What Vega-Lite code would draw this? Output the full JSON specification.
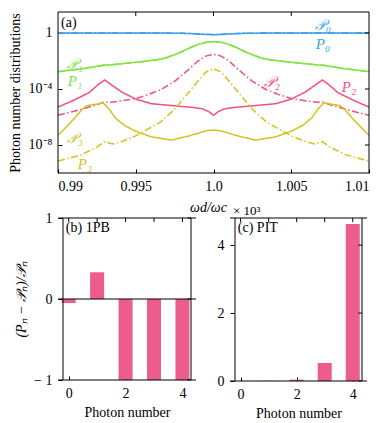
{
  "$schema": "https://vega.github.io/schema/vega-lite/v6.json",
  "padding": {"left": 8, "top": 11, "right": 5, "bottom": 5},
  "bounds": "flush",
  "spacing": 45,
  "config": {
    "font": "Liberation Serif",
    "view": {"stroke": null},
    "axis": {
      "labelFont": "Liberation Serif", "titleFont": "Liberation Serif",
      "labelFontSize": 14, "titleFontSize": 14, "titleFontWeight": "normal",
      "labelColor": "black", "titleColor": "black", "grid": false, "domain": false,
      "tickColor": "black", "tickSize": -4, "labelPadding": 10, "labelOverlap": false
    }
  },
  "datasets": {
    "curves": [
      {"w": 0.990, "v": 0.998, "n": "0", "k": "P"},
      {"w": 0.9945, "v": 0.993, "n": "0", "k": "P"},
      {"w": 0.9969, "v": 0.984, "n": "0", "k": "P"},
      {"w": 0.998, "v": 0.952, "n": "0", "k": "P"},
      {"w": 0.9985, "v": 0.91, "n": "0", "k": "P"},
      {"w": 0.999, "v": 0.845, "n": "0", "k": "P"},
      {"w": 0.9995, "v": 0.785, "n": "0", "k": "P"},
      {"w": 1.0, "v": 0.755, "n": "0", "k": "P"},
      {"w": 1.0005, "v": 0.785, "n": "0", "k": "P"},
      {"w": 1.001, "v": 0.845, "n": "0", "k": "P"},
      {"w": 1.0015, "v": 0.91, "n": "0", "k": "P"},
      {"w": 1.002, "v": 0.952, "n": "0", "k": "P"},
      {"w": 1.0031, "v": 0.984, "n": "0", "k": "P"},
      {"w": 1.0055, "v": 0.993, "n": "0", "k": "P"},
      {"w": 1.01, "v": 0.998, "n": "0", "k": "P"},

      {"w": 0.990, "v": 0.998, "n": "0", "k": "Q"},
      {"w": 0.9945, "v": 0.993, "n": "0", "k": "Q"},
      {"w": 0.9969, "v": 0.985, "n": "0", "k": "Q"},
      {"w": 0.998, "v": 0.955, "n": "0", "k": "Q"},
      {"w": 0.9985, "v": 0.915, "n": "0", "k": "Q"},
      {"w": 0.999, "v": 0.855, "n": "0", "k": "Q"},
      {"w": 0.9995, "v": 0.80, "n": "0", "k": "Q"},
      {"w": 1.0, "v": 0.775, "n": "0", "k": "Q"},
      {"w": 1.0005, "v": 0.80, "n": "0", "k": "Q"},
      {"w": 1.001, "v": 0.855, "n": "0", "k": "Q"},
      {"w": 1.0015, "v": 0.915, "n": "0", "k": "Q"},
      {"w": 1.002, "v": 0.955, "n": "0", "k": "Q"},
      {"w": 1.0031, "v": 0.985, "n": "0", "k": "Q"},
      {"w": 1.0055, "v": 0.993, "n": "0", "k": "Q"},
      {"w": 1.01, "v": 0.998, "n": "0", "k": "Q"},

      {"w": 0.990, "v": 1.74e-3, "n": "1", "k": "P"},
      {"w": 0.9915, "v": 2.75e-3, "n": "1", "k": "P"},
      {"w": 0.9928, "v": 4.75e-3, "n": "1", "k": "P"},
      {"w": 0.993, "v": 5.3e-3, "n": "1", "k": "P"},
      {"w": 0.9932, "v": 5.0e-3, "n": "1", "k": "P"},
      {"w": 0.9945, "v": 7.08e-3, "n": "1", "k": "P"},
      {"w": 0.9955, "v": 9.33e-3, "n": "1", "k": "P"},
      {"w": 0.9963, "v": 1.20e-2, "n": "1", "k": "P"},
      {"w": 0.9969, "v": 1.585e-2, "n": "1", "k": "P"},
      {"w": 0.9975, "v": 2.82e-2, "n": "1", "k": "P"},
      {"w": 0.998, "v": 4.79e-2, "n": "1", "k": "P"},
      {"w": 0.9985, "v": 8.91e-2, "n": "1", "k": "P"},
      {"w": 0.999, "v": 0.151, "n": "1", "k": "P"},
      {"w": 0.9995, "v": 0.214, "n": "1", "k": "P"},
      {"w": 1.0, "v": 0.240, "n": "1", "k": "P"},
      {"w": 1.0005, "v": 0.214, "n": "1", "k": "P"},
      {"w": 1.001, "v": 0.151, "n": "1", "k": "P"},
      {"w": 1.0015, "v": 8.91e-2, "n": "1", "k": "P"},
      {"w": 1.002, "v": 4.79e-2, "n": "1", "k": "P"},
      {"w": 1.0025, "v": 2.82e-2, "n": "1", "k": "P"},
      {"w": 1.0031, "v": 1.585e-2, "n": "1", "k": "P"},
      {"w": 1.0037, "v": 1.20e-2, "n": "1", "k": "P"},
      {"w": 1.0045, "v": 9.33e-3, "n": "1", "k": "P"},
      {"w": 1.0055, "v": 7.08e-3, "n": "1", "k": "P"},
      {"w": 1.0068, "v": 5.0e-3, "n": "1", "k": "P"},
      {"w": 1.007, "v": 5.3e-3, "n": "1", "k": "P"},
      {"w": 1.0072, "v": 4.75e-3, "n": "1", "k": "P"},
      {"w": 1.0085, "v": 2.75e-3, "n": "1", "k": "P"},
      {"w": 1.01, "v": 1.74e-3, "n": "1", "k": "P"},

      {"w": 0.990, "v": 1.74e-3, "n": "1", "k": "Q"},
      {"w": 0.9915, "v": 2.75e-3, "n": "1", "k": "Q"},
      {"w": 0.993, "v": 4.9e-3, "n": "1", "k": "Q"},
      {"w": 0.9945, "v": 7.08e-3, "n": "1", "k": "Q"},
      {"w": 0.9955, "v": 9.33e-3, "n": "1", "k": "Q"},
      {"w": 0.9963, "v": 1.20e-2, "n": "1", "k": "Q"},
      {"w": 0.9969, "v": 1.585e-2, "n": "1", "k": "Q"},
      {"w": 0.9975, "v": 2.82e-2, "n": "1", "k": "Q"},
      {"w": 0.998, "v": 4.79e-2, "n": "1", "k": "Q"},
      {"w": 0.9985, "v": 8.91e-2, "n": "1", "k": "Q"},
      {"w": 0.999, "v": 0.151, "n": "1", "k": "Q"},
      {"w": 0.9995, "v": 0.214, "n": "1", "k": "Q"},
      {"w": 1.0, "v": 0.240, "n": "1", "k": "Q"},
      {"w": 1.0005, "v": 0.214, "n": "1", "k": "Q"},
      {"w": 1.001, "v": 0.151, "n": "1", "k": "Q"},
      {"w": 1.0015, "v": 8.91e-2, "n": "1", "k": "Q"},
      {"w": 1.002, "v": 4.79e-2, "n": "1", "k": "Q"},
      {"w": 1.0025, "v": 2.82e-2, "n": "1", "k": "Q"},
      {"w": 1.0031, "v": 1.585e-2, "n": "1", "k": "Q"},
      {"w": 1.0037, "v": 1.20e-2, "n": "1", "k": "Q"},
      {"w": 1.0045, "v": 9.33e-3, "n": "1", "k": "Q"},
      {"w": 1.0055, "v": 7.08e-3, "n": "1", "k": "Q"},
      {"w": 1.007, "v": 4.9e-3, "n": "1", "k": "Q"},
      {"w": 1.0085, "v": 2.75e-3, "n": "1", "k": "Q"},
      {"w": 1.01, "v": 1.74e-3, "n": "1", "k": "Q"},

      {"w": 0.990, "v": 5.13e-6, "n": "2", "k": "P"},
      {"w": 0.9909, "v": 1.38e-5, "n": "2", "k": "P"},
      {"w": 0.992, "v": 5.50e-5, "n": "2", "k": "P"},
      {"w": 0.9926, "v": 2.14e-4, "n": "2", "k": "P"},
      {"w": 0.993, "v": 4.37e-4, "n": "2", "k": "P"},
      {"w": 0.99345, "v": 1.95e-4, "n": "2", "k": "P"},
      {"w": 0.9941, "v": 6.03e-5, "n": "2", "k": "P"},
      {"w": 0.995, "v": 1.91e-5, "n": "2", "k": "P"},
      {"w": 0.996, "v": 8.91e-6, "n": "2", "k": "P"},
      {"w": 0.997, "v": 7.08e-6, "n": "2", "k": "P"},
      {"w": 0.998, "v": 5.62e-6, "n": "2", "k": "P"},
      {"w": 0.9987, "v": 4.79e-6, "n": "2", "k": "P"},
      {"w": 0.9993, "v": 3.80e-6, "n": "2", "k": "P"},
      {"w": 0.9997, "v": 2.40e-6, "n": "2", "k": "P"},
      {"w": 1.0, "v": 1.32e-6, "n": "2", "k": "P"},
      {"w": 1.0003, "v": 2.40e-6, "n": "2", "k": "P"},
      {"w": 1.0007, "v": 3.80e-6, "n": "2", "k": "P"},
      {"w": 1.0013, "v": 4.79e-6, "n": "2", "k": "P"},
      {"w": 1.002, "v": 5.62e-6, "n": "2", "k": "P"},
      {"w": 1.003, "v": 7.08e-6, "n": "2", "k": "P"},
      {"w": 1.004, "v": 8.91e-6, "n": "2", "k": "P"},
      {"w": 1.005, "v": 1.91e-5, "n": "2", "k": "P"},
      {"w": 1.0059, "v": 6.03e-5, "n": "2", "k": "P"},
      {"w": 1.00655, "v": 1.95e-4, "n": "2", "k": "P"},
      {"w": 1.007, "v": 4.37e-4, "n": "2", "k": "P"},
      {"w": 1.0074, "v": 2.14e-4, "n": "2", "k": "P"},
      {"w": 1.008, "v": 5.50e-5, "n": "2", "k": "P"},
      {"w": 1.0091, "v": 1.38e-5, "n": "2", "k": "P"},
      {"w": 1.01, "v": 5.13e-6, "n": "2", "k": "P"},

      {"w": 0.990, "v": 1.32e-6, "n": "2", "k": "Q"},
      {"w": 0.9915, "v": 3.55e-6, "n": "2", "k": "Q"},
      {"w": 0.9925, "v": 7.59e-6, "n": "2", "k": "Q"},
      {"w": 0.993, "v": 1.20e-5, "n": "2", "k": "Q"},
      {"w": 0.9934, "v": 1.12e-5, "n": "2", "k": "Q"},
      {"w": 0.9942, "v": 1.51e-5, "n": "2", "k": "Q"},
      {"w": 0.995, "v": 2.09e-5, "n": "2", "k": "Q"},
      {"w": 0.9958, "v": 3.98e-5, "n": "2", "k": "Q"},
      {"w": 0.9966, "v": 8.91e-5, "n": "2", "k": "Q"},
      {"w": 0.9975, "v": 3.55e-4, "n": "2", "k": "Q"},
      {"w": 0.9983, "v": 1.95e-3, "n": "2", "k": "Q"},
      {"w": 0.999, "v": 1.0e-2, "n": "2", "k": "Q"},
      {"w": 0.9995, "v": 2.24e-2, "n": "2", "k": "Q"},
      {"w": 1.0, "v": 3.02e-2, "n": "2", "k": "Q"},
      {"w": 1.0005, "v": 2.24e-2, "n": "2", "k": "Q"},
      {"w": 1.001, "v": 1.0e-2, "n": "2", "k": "Q"},
      {"w": 1.0017, "v": 1.95e-3, "n": "2", "k": "Q"},
      {"w": 1.0025, "v": 3.55e-4, "n": "2", "k": "Q"},
      {"w": 1.0034, "v": 8.91e-5, "n": "2", "k": "Q"},
      {"w": 1.0042, "v": 3.98e-5, "n": "2", "k": "Q"},
      {"w": 1.005, "v": 2.09e-5, "n": "2", "k": "Q"},
      {"w": 1.0058, "v": 1.51e-5, "n": "2", "k": "Q"},
      {"w": 1.0066, "v": 1.12e-5, "n": "2", "k": "Q"},
      {"w": 1.007, "v": 1.20e-5, "n": "2", "k": "Q"},
      {"w": 1.0075, "v": 7.59e-6, "n": "2", "k": "Q"},
      {"w": 1.0085, "v": 3.55e-6, "n": "2", "k": "Q"},
      {"w": 1.01, "v": 1.32e-6, "n": "2", "k": "Q"},

      {"w": 0.990, "v": 4.90e-8, "n": "3", "k": "P"},
      {"w": 0.9905, "v": 1.78e-7, "n": "3", "k": "P"},
      {"w": 0.9911, "v": 8.91e-7, "n": "3", "k": "P"},
      {"w": 0.9916, "v": 3.98e-6, "n": "3", "k": "P"},
      {"w": 0.9919, "v": 6.76e-6, "n": "3", "k": "P"},
      {"w": 0.9925, "v": 8.32e-6, "n": "3", "k": "P"},
      {"w": 0.9929, "v": 1.05e-5, "n": "3", "k": "P"},
      {"w": 0.9933, "v": 3.55e-6, "n": "3", "k": "P"},
      {"w": 0.99367, "v": 8.91e-7, "n": "3", "k": "P"},
      {"w": 0.9942, "v": 2.82e-7, "n": "3", "k": "P"},
      {"w": 0.99495, "v": 1.0e-7, "n": "3", "k": "P"},
      {"w": 0.996, "v": 3.80e-8, "n": "3", "k": "P"},
      {"w": 0.9973, "v": 2.24e-8, "n": "3", "k": "P"},
      {"w": 0.9985, "v": 4.68e-8, "n": "3", "k": "P"},
      {"w": 0.9992, "v": 7.94e-8, "n": "3", "k": "P"},
      {"w": 0.9996, "v": 1.07e-7, "n": "3", "k": "P"},
      {"w": 1.0, "v": 1.17e-7, "n": "3", "k": "P"},
      {"w": 1.0004, "v": 1.07e-7, "n": "3", "k": "P"},
      {"w": 1.0008, "v": 7.94e-8, "n": "3", "k": "P"},
      {"w": 1.0015, "v": 4.68e-8, "n": "3", "k": "P"},
      {"w": 1.0027, "v": 2.24e-8, "n": "3", "k": "P"},
      {"w": 1.004, "v": 3.80e-8, "n": "3", "k": "P"},
      {"w": 1.00505, "v": 1.0e-7, "n": "3", "k": "P"},
      {"w": 1.0058, "v": 2.82e-7, "n": "3", "k": "P"},
      {"w": 1.00633, "v": 8.91e-7, "n": "3", "k": "P"},
      {"w": 1.0067, "v": 3.55e-6, "n": "3", "k": "P"},
      {"w": 1.0071, "v": 1.05e-5, "n": "3", "k": "P"},
      {"w": 1.0075, "v": 8.32e-6, "n": "3", "k": "P"},
      {"w": 1.0081, "v": 6.76e-6, "n": "3", "k": "P"},
      {"w": 1.0084, "v": 3.98e-6, "n": "3", "k": "P"},
      {"w": 1.0089, "v": 8.91e-7, "n": "3", "k": "P"},
      {"w": 1.0095, "v": 1.78e-7, "n": "3", "k": "P"},
      {"w": 1.01, "v": 4.90e-8, "n": "3", "k": "P"},

      {"w": 0.990, "v": 7.24e-10, "n": "3", "k": "Q"},
      {"w": 0.9915, "v": 2.0e-9, "n": "3", "k": "Q"},
      {"w": 0.9925, "v": 7.08e-9, "n": "3", "k": "Q"},
      {"w": 0.993, "v": 1.74e-8, "n": "3", "k": "Q"},
      {"w": 0.9935, "v": 1.17e-8, "n": "3", "k": "Q"},
      {"w": 0.9942, "v": 1.91e-8, "n": "3", "k": "Q"},
      {"w": 0.995, "v": 4.47e-8, "n": "3", "k": "Q"},
      {"w": 0.9958, "v": 1.41e-7, "n": "3", "k": "Q"},
      {"w": 0.9966, "v": 4.47e-7, "n": "3", "k": "Q"},
      {"w": 0.9975, "v": 3.55e-6, "n": "3", "k": "Q"},
      {"w": 0.9983, "v": 4.17e-5, "n": "3", "k": "Q"},
      {"w": 0.999, "v": 3.55e-4, "n": "3", "k": "Q"},
      {"w": 0.9995, "v": 1.585e-3, "n": "3", "k": "Q"},
      {"w": 1.0, "v": 2.82e-3, "n": "3", "k": "Q"},
      {"w": 1.0005, "v": 1.585e-3, "n": "3", "k": "Q"},
      {"w": 1.001, "v": 3.55e-4, "n": "3", "k": "Q"},
      {"w": 1.0017, "v": 4.17e-5, "n": "3", "k": "Q"},
      {"w": 1.0025, "v": 3.55e-6, "n": "3", "k": "Q"},
      {"w": 1.0034, "v": 4.47e-7, "n": "3", "k": "Q"},
      {"w": 1.0042, "v": 1.41e-7, "n": "3", "k": "Q"},
      {"w": 1.005, "v": 4.47e-8, "n": "3", "k": "Q"},
      {"w": 1.0058, "v": 1.91e-8, "n": "3", "k": "Q"},
      {"w": 1.0065, "v": 1.17e-8, "n": "3", "k": "Q"},
      {"w": 1.007, "v": 1.74e-8, "n": "3", "k": "Q"},
      {"w": 1.0075, "v": 7.08e-9, "n": "3", "k": "Q"},
      {"w": 1.0085, "v": 2.0e-9, "n": "3", "k": "Q"},
      {"w": 1.01, "v": 7.24e-10, "n": "3", "k": "Q"}
    ],
    "toplabels": [
      {"w": 1.00704, "v": 3.7, "t": "𝒫₀", "n": "0"},
      {"w": 1.00704, "v": 0.163, "t": "P₀", "n": "0"},
      {"w": 0.99109, "v": 6.17e-3, "t": "𝒫₁", "n": "1"},
      {"w": 0.99109, "v": 3.72e-4, "t": "P₁", "n": "1"},
      {"w": 1.00376, "v": 3.16e-4, "t": "𝒫₂", "n": "2"},
      {"w": 1.00871, "v": 1.38e-4, "t": "P₂", "n": "2"},
      {"w": 0.99109, "v": 3.16e-8, "t": "𝒫₃", "n": "3"},
      {"w": 0.99174, "v": 4.37e-10, "t": "P₃", "n": "3"}
    ],
    "pb": [
      {"n": 0, "v": -0.05},
      {"n": 1, "v": 0.33},
      {"n": 2, "v": -1},
      {"n": 3, "v": -1},
      {"n": 4, "v": -1}
    ],
    "pc": [
      {"n": 0, "v": 0.002},
      {"n": 1, "v": 0.004},
      {"n": 2, "v": 0.04},
      {"n": 3, "v": 0.53},
      {"n": 4, "v": 4.62}
    ]
  },
  "vconcat": [
    {
      "width": 311,
      "height": 161,
      "layer": [
        {
          "data": {"name": "curves"},
          "mark": {"type": "line", "strokeWidth": 1.5, "clip": true},
          "encoding": {
            "x": {"field": "w", "type": "quantitative",
                  "scale": {"domain": [0.99, 1.01], "nice": false, "zero": false},
                  "axis": {"values": [0.99, 0.995, 1, 1.005, 1.01],
                           "labelExpr": "datum.value == 1 ? '1.0' : format(datum.value, '.3~f')",
                           "title": "ωd/ωc", "titleFontStyle": "italic", "titlePadding": 7, "titleX": 150}},
            "y": {"field": "v", "type": "quantitative",
                  "scale": {"type": "log", "domain": [1e-10, 31.62], "nice": false},
                  "axis": {"values": [1e-8, 1e-4, 1],
                           "labelExpr": "datum.value == 1 ? '1' : (datum.value < 1e-6 ? '10⁻⁸' : '10⁻⁴')",
                           "title": "Photon number distributions", "titlePadding": 6}},
            "color": {"field": "n", "type": "nominal",
                      "scale": {"domain": ["0", "1", "2", "3"], "range": ["#3c9ee6", "#7ee33f", "#f2507e", "#d6c11f"]},
                      "legend": null},
            "strokeDash": {"field": "k", "type": "nominal",
                           "scale": {"domain": ["P", "Q"], "range": [[1, 0], [7, 2.5, 1.5, 2.5]]},
                           "legend": null}
          }
        },
        {
          "data": {"name": "toplabels"},
          "mark": {"type": "text", "fontStyle": "italic", "fontSize": 15},
          "encoding": {
            "x": {"field": "w", "type": "quantitative"},
            "y": {"field": "v", "type": "quantitative"},
            "text": {"field": "t"},
            "color": {"field": "n", "type": "nominal", "legend": null}
          }
        },
        {
          "data": {"values": [{"label": "(a)"}]},
          "mark": {"type": "text", "fontSize": 14, "align": "left", "color": "black"},
          "encoding": {
            "x": {"datum": 0.9902},
            "y": {"datum": 5.1},
            "text": {"field": "label"}
          }
        },
        {
          "data": {"values": [{"fx": 0.99}, {"fx": 1.01}]},
          "mark": {"type": "rule", "color": "black", "strokeWidth": 1},
          "encoding": {"x": {"field": "fx", "type": "quantitative"}}
        },
        {
          "data": {"values": [{"fy": 1e-10}, {"fy": 31.62}]},
          "mark": {"type": "rule", "color": "black", "strokeWidth": 1},
          "encoding": {"y": {"field": "fy", "type": "quantitative"}}
        },
        {
          "data": {"values": [{"tx": 0.995, "t0": 31.62, "t1": 16.4}, {"tx": 1.0, "t0": 31.62, "t1": 16.4}, {"tx": 1.005, "t0": 31.62, "t1": 16.4}]},
          "mark": {"type": "rule", "color": "black", "strokeWidth": 1},
          "encoding": {"x": {"field": "tx", "type": "quantitative"}, "y": {"field": "t0", "type": "quantitative"}, "y2": {"field": "t1"}}
        },
        {
          "data": {"values": [{"ty": 1e-8, "s0": 1.01, "s1": 1.00974}, {"ty": 1e-4, "s0": 1.01, "s1": 1.00974}, {"ty": 1, "s0": 1.01, "s1": 1.00974}]},
          "mark": {"type": "rule", "color": "black", "strokeWidth": 1},
          "encoding": {"y": {"field": "ty", "type": "quantitative"}, "x": {"field": "s0", "type": "quantitative"}, "x2": {"field": "s1"}}
        }
      ]
    },
    {
      "bounds": "flush",
      "spacing": 34,
      "hconcat": [
        {
          "width": 138,
          "height": 162,
          "layer": [
            {
              "data": {"name": "pb"},
              "mark": {"type": "bar", "width": 14, "color": "#ec5c8c"},
              "encoding": {
                "x": {"field": "n", "type": "quantitative",
                      "scale": {"domain": [-0.2, 4.3], "nice": false, "zero": false},
                      "axis": {"values": [0, 1, 2, 3, 4], "format": "d", "title": "Photon number", "titlePadding": 5}},
                "y": {"field": "v", "type": "quantitative",
                      "scale": {"domain": [-1, 1], "nice": false},
                      "axis": {"values": [-1, 0, 1], "labelExpr": "datum.value == 0 ? '0' : (datum.value > 0 ? '1' : '− 1')", "title": "(Pₙ − 𝒫ₙ)/𝒫ₙ", "titleFontStyle": "italic", "titlePadding": 5}}
              }
            },
            {
              "data": {"values": [{"fy": -1}, {"fy": 0}, {"fy": 1}]},
              "mark": {"type": "rule", "color": "black", "strokeWidth": 1},
              "encoding": {"y": {"field": "fy", "type": "quantitative"}}
            },
            {
              "data": {"values": [{"fx": -0.2}, {"fx": 4.3}]},
              "mark": {"type": "rule", "color": "black", "strokeWidth": 1},
              "encoding": {"x": {"field": "fx", "type": "quantitative"}}
            },
            {
              "data": {"values": [{"tx": 0, "t0": 1, "t1": 0.951}, {"tx": 1, "t0": 1, "t1": 0.951}, {"tx": 2, "t0": 1, "t1": 0.951}, {"tx": 3, "t0": 1, "t1": 0.951}, {"tx": 4, "t0": 1, "t1": 0.951}]},
              "mark": {"type": "rule", "color": "black", "strokeWidth": 1},
              "encoding": {"x": {"field": "tx", "type": "quantitative"}, "y": {"field": "t0", "type": "quantitative"}, "y2": {"field": "t1"}}
            },
            {
              "data": {"values": [{"ty": -1, "s0": 4.3, "s1": 4.17}, {"ty": 0, "s0": 4.3, "s1": 4.17}, {"ty": 1, "s0": 4.3, "s1": 4.17}]},
              "mark": {"type": "rule", "color": "black", "strokeWidth": 1},
              "encoding": {"y": {"field": "ty", "type": "quantitative"}, "x": {"field": "s0", "type": "quantitative"}, "x2": {"field": "s1"}}
            },
            {
              "data": {"values": [{"label": "(b) 1PB"}]},
              "mark": {"type": "text", "fontSize": 14, "align": "left", "color": "black"},
              "encoding": {
                "x": {"datum": -0.1},
                "y": {"datum": 0.88},
                "text": {"field": "label"}
              }
            }
          ]
        },
        {
          "width": 137,
          "height": 163,
          "title": {"text": "× 10³", "anchor": "start", "fontSize": 13, "fontWeight": "normal", "font": "Liberation Serif", "offset": 0, "dx": 16, "color": "black"},
          "layer": [
            {
              "data": {"name": "pc"},
              "mark": {"type": "bar", "width": 14, "color": "#ec5c8c"},
              "encoding": {
                "x": {"field": "n", "type": "quantitative",
                      "scale": {"domain": [-0.2, 4.33], "nice": false, "zero": false},
                      "axis": {"values": [0, 1, 2, 3, 4], "format": "d", "title": "Photon number", "titlePadding": 5}},
                "y": {"field": "v", "type": "quantitative",
                      "scale": {"domain": [0, 4.8], "nice": false},
                      "axis": {"values": [0, 2, 4], "title": null}}
              }
            },
            {
              "data": {"values": [{"fy": 0}, {"fy": 4.8}]},
              "mark": {"type": "rule", "color": "black", "strokeWidth": 1},
              "encoding": {"y": {"field": "fy", "type": "quantitative"}}
            },
            {
              "data": {"values": [{"fx": -0.2}, {"fx": 4.33}]},
              "mark": {"type": "rule", "color": "black", "strokeWidth": 1},
              "encoding": {"x": {"field": "fx", "type": "quantitative"}}
            },
            {
              "data": {"values": [{"tx": 0, "t0": 4.8, "t1": 4.68}, {"tx": 1, "t0": 4.8, "t1": 4.68}, {"tx": 2, "t0": 4.8, "t1": 4.68}, {"tx": 3, "t0": 4.8, "t1": 4.68}, {"tx": 4, "t0": 4.8, "t1": 4.68}]},
              "mark": {"type": "rule", "color": "black", "strokeWidth": 1},
              "encoding": {"x": {"field": "tx", "type": "quantitative"}, "y": {"field": "t0", "type": "quantitative"}, "y2": {"field": "t1"}}
            },
            {
              "data": {"values": [{"ty": 0, "s0": 4.33, "s1": 4.2}, {"ty": 2, "s0": 4.33, "s1": 4.2}, {"ty": 4, "s0": 4.33, "s1": 4.2}]},
              "mark": {"type": "rule", "color": "black", "strokeWidth": 1},
              "encoding": {"y": {"field": "ty", "type": "quantitative"}, "x": {"field": "s0", "type": "quantitative"}, "x2": {"field": "s1"}}
            },
            {
              "data": {"values": [{"label": "(c) PIT"}]},
              "mark": {"type": "text", "fontSize": 14, "align": "left", "color": "black"},
              "encoding": {
                "x": {"datum": -0.1},
                "y": {"datum": 4.5},
                "text": {"field": "label"}
              }
            }
          ]
        }
      ]
    }
  ]
}
